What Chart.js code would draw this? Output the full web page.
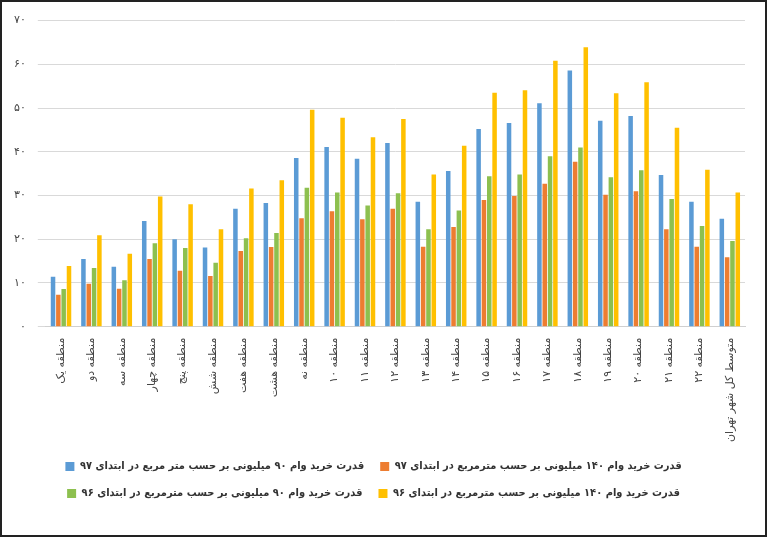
<!DOCTYPE html>
<html>
<head>
<meta charset="utf-8">
<script src="https://cdn.jsdelivr.net/npm/chart.js@4"></script>
<style>
  html, body { margin: 0; padding: 0; background: #fff; }
  #wrap { position: absolute; left: 0; top: 0; width: 763px; height: 533px; border: 2px solid #222; }
</style>
</head>
<body>
<div id="wrap"><canvas id="c"></canvas></div>
<script>
const categories = ['منطقه یک','منطقه دو','منطقه سه','منطقه چهار','منطقه پنج','منطقه شش','منطقه هفت','منطقه هشت','منطقه نه',
  'منطقه ۱۰','منطقه ۱۱','منطقه ۱۲','منطقه ۱۳','منطقه ۱۴','منطقه ۱۵','منطقه ۱۶','منطقه ۱۷','منطقه ۱۸','منطقه ۱۹','منطقه ۲۰','منطقه ۲۱','منطقه ۲۲','متوسط کل شهر تهران'];
const blue97 = [11.4,15.5,13.7,24.2,20,18.1,27,28.3,38.6,41.1,38.4,42,28.6,35.6,45.2,46.6,51.1,58.6,47.1,48.2,34.7,28.6,24.7];
const orange97 = [7.3,9.8,8.7,15.5,12.8,11.6,17.3,18.2,24.8,26.4,24.6,27,18.3,22.8,29,29.9,32.7,37.7,30.2,31,22.3,18.3,15.9];
const green96 = [8.6,13.4,10.6,19.1,18,14.6,20.2,21.4,31.8,30.7,27.7,30.5,22.3,26.6,34.4,34.8,39,41,34.2,35.8,29.2,23,19.6];
const yellow96 = [13.9,20.9,16.7,29.8,28,22.3,31.6,33.5,49.6,47.8,43.3,47.5,34.8,41.4,53.5,54.1,60.8,63.9,53.4,55.9,45.5,35.9,30.7];
const seriesNames = [
  'قدرت خرید وام ۹۰ میلیونی بر حسب متر مربع در ابتدای ۹۷',
  'قدرت خرید وام ۱۴۰ میلیونی بر حسب مترمربع در ابتدای ۹۷',
  'قدرت خرید وام ۹۰ میلیونی بر حسب مترمربع در ابتدای ۹۶',
  'قدرت خرید وام ۱۴۰ میلیونی بر حسب مترمربع در ابتدای ۹۶'
];
const colors = ['#5b9bd5','#ed7d31','#8dc04f','#ffc000'];

function fa(n){ return String(n).replace(/\d/g, d => '۰۱۲۳۴۵۶۷۸۹'[d]); }

const font = { family: 'DejaVu Sans', size: 11 };
new Chart(document.getElementById('c'), {
  type: 'bar',
  data: {
    labels: categories,
    datasets: [blue97, orange97, green96, yellow96].map((d, i) => ({
      label: seriesNames[i], data: d, backgroundColor: colors[i],
      categoryPercentage: 0.7, barPercentage: 0.85
    }))
  },
  options: {
    responsive: true, maintainAspectRatio: false, animation: false,
    layout: { padding: { left: 0, right: 20, top: 12, bottom: 26 } },
    plugins: {
      tooltip: { enabled: false },
      legend: {
        position: 'bottom', align: 'center', textDirection: 'rtl',
        labels: { font: { family: 'DejaVu Sans Condensed', size: 11, weight: 'bold' }, color: '#333', boxWidth: 9, boxHeight: 9, padding: 16 }
      }
    },
    scales: {
      x: {
        grid: { display: false },
        border: { color: '#d0d0d0' },
        ticks: { font: font, color: '#444', minRotation: 90, maxRotation: 90, autoSkip: false }
      },
      y: {
        min: 0, max: 70,
        border: { display: false },
        grid: { color: '#d9d9d9' },
        ticks: { stepSize: 10, font: font, color: '#444', padding: 12, callback: v => fa(v) }
      }
    }
  }
});
</script>
</body>
</html>
